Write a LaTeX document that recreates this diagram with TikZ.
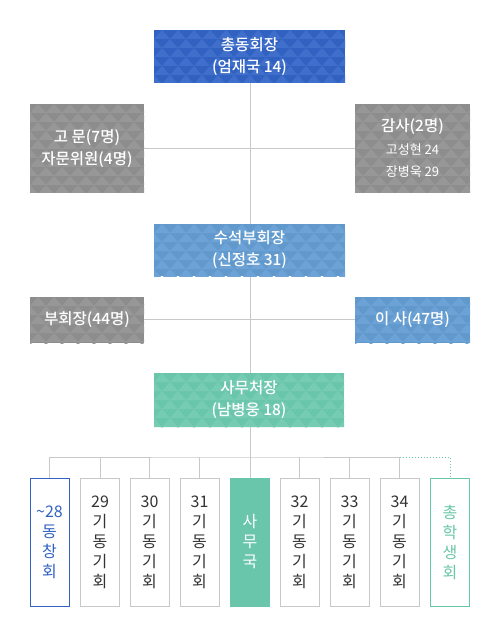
\documentclass[tikz,border=0pt]{standalone}
\usepackage{fontspec}
\setmainfont{Noto Sans CJK KR}[BoldFont={Noto Sans CJK KR Medium}]
\usetikzlibrary{positioning,calc}
\definecolor{Ink}{HTML}{333333}
\definecolor{Rule}{HTML}{C8C8C8}
\definecolor{Royal}{HTML}{3162C2}
\definecolor{RoyalLight}{HTML}{3F6FCB}
\definecolor{Stone}{HTML}{8D8D8D}
\definecolor{StoneLight}{HTML}{979797}
\definecolor{Sky}{HTML}{6199CD}
\definecolor{SkyLight}{HTML}{6CA2D5}
\definecolor{Mint}{HTML}{6AC6AA}
\definecolor{MintLight}{HTML}{76CBB3}

\tikzset{
  tri/.style={path picture={
    \foreach \j in {0,...,10}{
      \foreach \i in {-1,...,12}{
        \fill[#1] ($(path picture bounding box.north west)+({\i*16+mod(\j,2)*8},{\j*9+9})$) -- ++(8,-9) -- ++(8,9) -- cycle;
      }}}},
  headbox/.style={inner sep=0pt,align=center,text=white,font=\fontsize{15.5}{22}\selectfont\bfseries},
  colbox/.style={draw=Rule,line width=1pt,fill=white,minimum width=39pt,minimum height=128pt,
    inner sep=0pt,align=center,text=Ink,font=\fontsize{16}{20}\selectfont},
  link/.style={draw=Rule,line width=1pt},
}

\begin{document}
\begin{tikzpicture}[x=1pt,y=-1pt]
\useasboundingbox[fill=white] (0,0) rectangle (500,636);
% connectors first, boxes on top
\coordinate (bus) at (250,457);
\coordinate (advx) at (144,149);
\coordinate (auditx) at (355,149);
\coordinate (vicex) at (144,319.5);
\coordinate (dirx) at (355,319.5);
\draw[link] (250,83) -- (bus);
\draw[link] (advx) -- (auditx);
\draw[link] (vicex) -- (dirx);
% head boxes
\node[headbox,fill=Royal,tri=RoyalLight,minimum width=191pt,minimum height=53pt] (chair) at (249.5,56.5) {총동회장\\(엄재국 14)};
\node[headbox,fill=Stone,tri=StoneLight,minimum width=114pt,minimum height=89pt] (adv) at (87,148.5) {고 문(7명)\\자문위원(4명)};
\node[headbox,fill=Stone,tri=StoneLight,minimum width=115pt,minimum height=89pt] (audit) at (412.5,148.5) {감사(2명)\\[1pt]{\fontsize{13}{19}\selectfont\mdseries 고성현 24}\\{\fontsize{13}{19}\selectfont\mdseries 장병욱 29}};
\node[headbox,fill=Sky,tri=SkyLight,minimum width=191pt,minimum height=52pt] (senior) at (249.5,250) {수석부회장\\(신정호 31)};
\node[headbox,fill=Stone,tri=StoneLight,minimum width=114pt,minimum height=46pt] (vice) at (87,320) {부회장(44명)};
\node[headbox,fill=Sky,tri=SkyLight,minimum width=115pt,minimum height=46pt] (dir) at (412.5,320) {이 사(47명)};
\node[headbox,fill=Mint,tri=MintLight,minimum width=190pt,minimum height=54pt] (sec) at (249,400) {사무처장\\(남병웅 18)};
% class boxes
\node[colbox,draw=Royal,text=Royal] (b1) at (49.5,542) {\textasciitilde28\\동\\창\\회};
\node[colbox] (b2) at (100,542) {29\\기\\동\\기\\회};
\node[colbox] (b3) at (149.5,542) {30\\기\\동\\기\\회};
\node[colbox] (b4) at (199.5,542) {31\\기\\동\\기\\회};
\node[colbox,draw=Mint,fill=Mint,text=white] (b5) at (250,542) {사\\무\\국};
\node[colbox] (b6) at (299.5,542) {32\\기\\동\\기\\회};
\node[colbox] (b7) at (349.5,542) {33\\기\\동\\기\\회};
\node[colbox] (b8) at (399.5,542) {34\\기\\동\\기\\회};
\node[colbox,draw=Mint,text=Mint] (b9) at (450,542) {총\\학\\생\\회};
% bus
\draw[link] (b1.north) |- (bus) -| (b8.north);
\draw[link] (b2.north) -- (b2.north |- bus);
\draw[link] (b3.north) -- (b3.north |- bus);
\draw[link] (b4.north) -- (b4.north |- bus);
\draw[link] (b5.north) -- (b5.north |- bus);
\draw[link] (b6.north) -- (b6.north |- bus);
\draw[link] (b7.north) -- (b7.north |- bus);
\draw[Mint,line width=1pt,dotted] (b8.north |- bus) -| (b9.north);
\end{tikzpicture}
\end{document}
